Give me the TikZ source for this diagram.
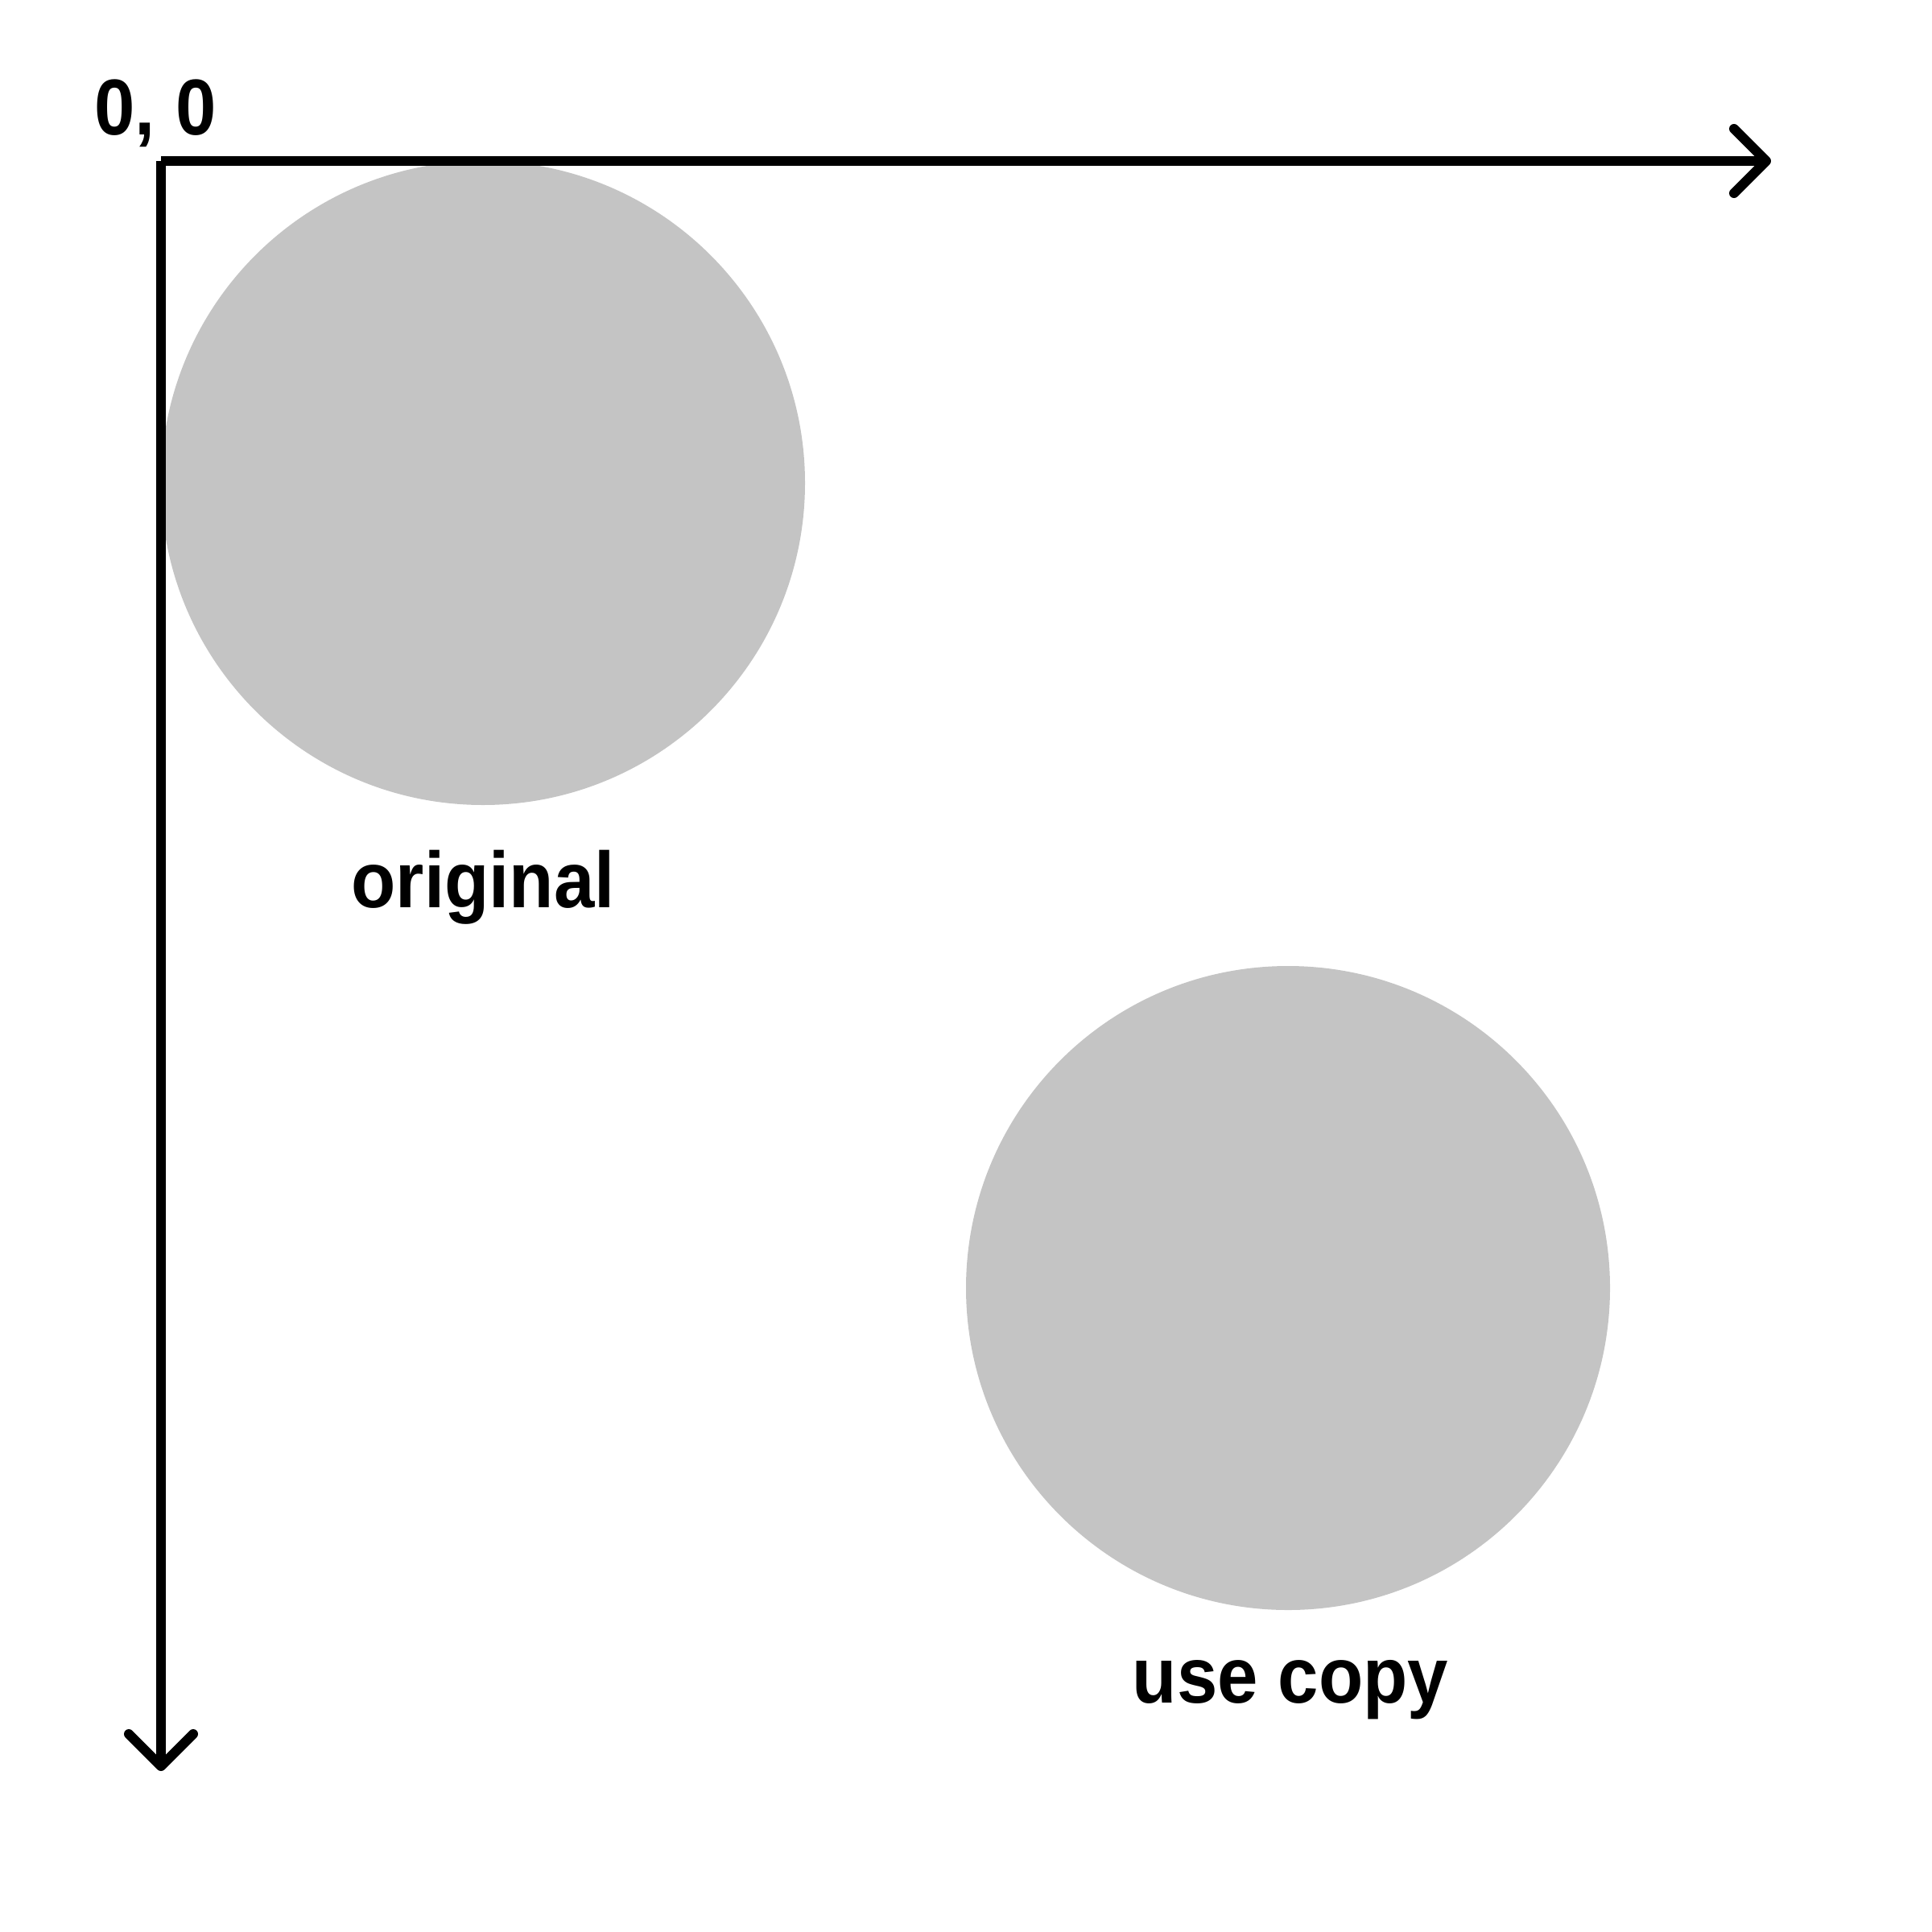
\documentclass[tikz,border=0pt]{standalone}
\usepackage{fontspec}
\setmainfont[FakeStretch=0.92]{Liberation Sans}
\usepackage{tikz}
\usetikzlibrary{arrows.meta}
\definecolor{discgray}{HTML}{C4C4C4}
\tikzset{
    disc/.style={fill=discgray, circle, inner sep=0pt, minimum size=80mm},
    axis/.style={line width=1.2mm, -{Straight Barb[length=4mm, width=8mm, round]}},
    caption/.style={anchor=base, inner sep=0pt, font=\fontsize{28pt}{30pt}\selectfont\bfseries}
}
\begin{document}
\begin{tikzpicture}[x=1mm, y=-1mm]
          \useasboundingbox (0,0) rectangle (240,240);
          \node [disc] (orig) at (60,60) {};
          \node [disc] (copy) at (160,160) {};
          \node [caption] (origlabel) at (60,112.7) {original};
          \node [caption] (copylabel) at (160.3,211.5) {use copy};
          \node [caption] (zero) at (19.3,16.8) {0, 0};
          \coordinate (o) at (20,20);
          \coordinate (xend) at (220,20);
          \coordinate (yend) at (20,220);
          \draw [axis] (o) -- (xend);
          \draw [axis] (o) -- (yend);
      \end{tikzpicture}
\end{document}
